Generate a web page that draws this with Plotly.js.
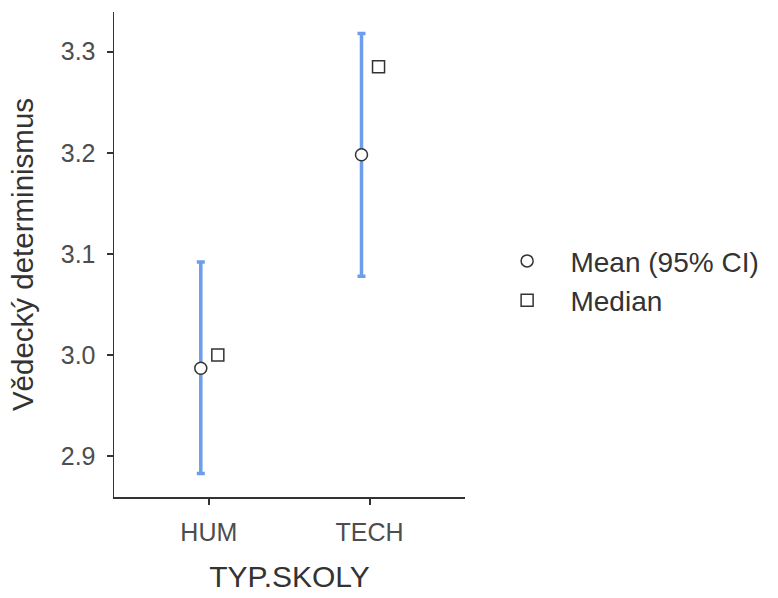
<!DOCTYPE html>
<html>
<head>
<meta charset="utf-8">
<script src="https://cdn.plot.ly/plotly-3.0.1.min.js"></script>
<style>html,body{margin:0;padding:0;background:#fff;}#chart{width:778px;height:598px;}</style>
</head>
<body>
<div id="chart"></div>
<script>
const categories = ["HUM", "TECH"];
const meanValues = [2.987, 3.198];
const ciLower = [2.883, 3.078];
const ciUpper = [3.092, 3.318];
const medianValues = [3.000, 3.285];
const yTicks = [2.9, 3.0, 3.1, 3.2, 3.3];
const yTickLabels = ["2.9", "3.0", "3.1", "3.2", "3.3"];

const catPos = categories.map((c, i) => i + 1);
const font = "Liberation Sans, Arial, sans-serif";

const meanTrace = {
  type: "scatter", mode: "markers",
  name: "\u00a0\u00a0\u00a0Mean (95% CI)",
  x: catPos.map(p => p - 0.05),
  y: meanValues,
  error_y: {
    type: "data", symmetric: false,
    array: ciUpper.map((u, i) => u - meanValues[i]),
    arrayminus: ciLower.map((l, i) => meanValues[i] - l),
    color: "#6d9eeb", thickness: 3.5, width: 4
  },
  marker: {symbol: "circle", size: 12, color: "#ffffff", line: {color: "#333333", width: 1.5}},
  hoverinfo: "skip"
};
const medianTrace = {
  type: "scatter", mode: "markers",
  name: "\u00a0\u00a0\u00a0Median",
  x: catPos.map(p => p + 0.056),
  y: medianValues,
  marker: {symbol: "square", size: 12, color: "#ffffff", line: {color: "#333333", width: 1.5}},
  hoverinfo: "skip"
};

const layout = {
  width: 778, height: 598,
  margin: {l: 114, r: 313, t: 12, b: 101, pad: 0},
  paper_bgcolor: "#ffffff", plot_bgcolor: "#ffffff",
  font: {family: font, color: "#4d4d4d"},
  showlegend: true,
  legend: {
    x: 1.12, xanchor: "left", y: 0.446, yanchor: "middle",
    font: {family: font, size: 28, color: "#333333"},
    bgcolor: "rgba(0,0,0,0)", borderwidth: 0
  },
  xaxis: {
    range: [0.41, 2.594],
    tickmode: "array", tickvals: catPos, ticktext: categories,
    showgrid: false, zeroline: false,
    showline: true, linecolor: "#333333", linewidth: 1.5,
    ticks: "outside", ticklen: 6, tickwidth: 2, tickcolor: "#333333",
    ticklabelstandoff: 6,
    tickfont: {family: font, size: 25, color: "#4d4d4d"},
    title: {text: "TYP.SKOLY", standoff: 21, font: {family: font, size: 30, color: "#333333"}}
  },
  yaxis: {
    range: [2.8597, 3.3392],
    tickmode: "array", tickvals: yTicks, ticktext: yTickLabels,
    showgrid: false, zeroline: false,
    showline: true, linecolor: "#333333", linewidth: 1.5,
    ticks: "outside", ticklen: 6, tickwidth: 2, tickcolor: "#333333",
    ticklabelstandoff: 6,
    tickfont: {family: font, size: 25, color: "#4d4d4d"},
    title: {text: "Vědecký determinismus", standoff: 18, font: {family: font, size: 29.5, color: "#333333"}}
  }
};

Plotly.newPlot("chart", [meanTrace, medianTrace], layout, {displayModeBar: false, staticPlot: true});
</script>
</body>
</html>
